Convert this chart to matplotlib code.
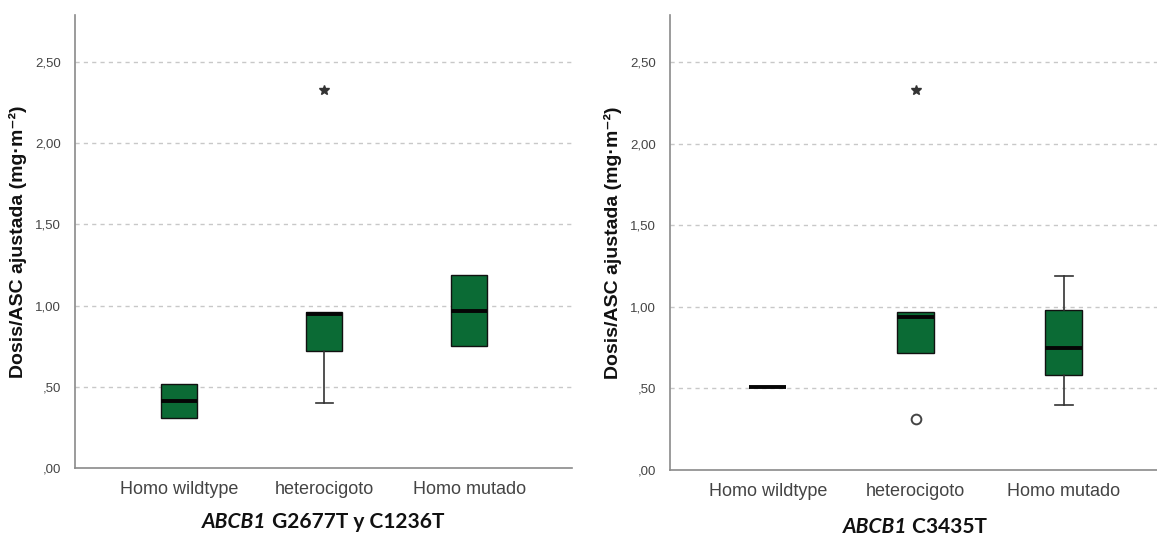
import matplotlib
matplotlib.use("Agg")
import matplotlib.pyplot as plt

plt.rcParams['font.family'] = ['Liberation Sans', 'DejaVu Sans']

categories = ["Homo wildtype", "heterocigoto", "Homo mutado"]
yticks = [0.0, 0.5, 1.0, 1.5, 2.0, 2.5]
ytick_labels = [",00", ",50", "1,00", "1,50", "2,00", "2,50"]

# Panel 1: ABCB1 G2677T y C1236T
p1_q1 = [0.31, 0.72, 0.75]
p1_med = [0.41, 0.95, 0.97]
p1_q3 = [0.52, 0.96, 1.19]
p1_wlo = [0.31, 0.40, 0.75]
p1_whi = [0.52, 0.96, 1.19]
p1_extreme = [[], [2.33], []]
p1_outlier = [[], [], []]

# Panel 2: ABCB1 C3435T
p2_q1 = [0.51, 0.72, 0.58]
p2_med = [0.51, 0.94, 0.75]
p2_q3 = [0.51, 0.97, 0.98]
p2_wlo = [0.51, 0.72, 0.40]
p2_whi = [0.51, 0.97, 1.19]
p2_extreme = [[], [2.33], []]
p2_outlier = [[], [0.31], []]

GREEN = "#0B6B35"

fig = plt.figure(figsize=(11.57, 5.40), dpi=100)
ax1 = fig.add_axes([75/1157, 1-468/540, (572-75)/1157, (468-15)/540])
ax2 = fig.add_axes([670/1157, 1-470/540, (1157-670)/1157, (470-15)/540])


def draw(ax, q1, med, q3, wlo, whi, extreme, outlier, xlim):
    stats = []
    for i in range(len(categories)):
        stats.append(dict(q1=q1[i], med=med[i], q3=q3[i], whislo=wlo[i],
                          whishi=whi[i], fliers=[], label=categories[i]))
    pos = list(range(1, len(categories)+1))
    art = ax.bxp(stats, positions=pos, widths=0.25, patch_artist=True, showfliers=False,
                 boxprops=dict(facecolor=GREEN, edgecolor="#111111", linewidth=1.0),
                 medianprops=dict(color="#050505", linewidth=2.8, solid_capstyle='butt'),
                 whiskerprops=dict(color="#333333", linewidth=1.2),
                 capprops=dict(color="#333333", linewidth=1.2),
                 capwidths=0.12)
    for i in range(len(categories)):
        lo_cap, hi_cap = art['caps'][2*i], art['caps'][2*i+1]
        if wlo[i] == q1[i]:
            lo_cap.set_visible(False)
        if whi[i] == q3[i]:
            hi_cap.set_visible(False)
        if q1[i] == q3[i]:
            art['boxes'][i].set_visible(False)
    for i, p in enumerate(pos):
        if extreme[i]:
            ax.plot([p]*len(extreme[i]), extreme[i], linestyle='none', marker='*',
                    markersize=7, color="#333333", zorder=5)
        if outlier[i]:
            ax.plot([p]*len(outlier[i]), outlier[i], linestyle='none', marker='o',
                    markersize=7, markerfacecolor='white', markeredgecolor="#444444",
                    markeredgewidth=1.4, zorder=5)
    ax.set_xlim(*xlim)
    ax.set_ylim(0, 2.79)
    ax.set_yticks(yticks)
    ax.set_yticklabels(ytick_labels)
    ax.set_xticks(pos)
    ax.set_xticklabels(categories)
    for v in yticks[1:]:
        ax.axhline(v, color="#c8c8c8", linestyle=(0, (3, 3)), linewidth=1.0, zorder=0)
    for s in ["top", "right"]:
        ax.spines[s].set_visible(False)
    for s in ["left", "bottom"]:
        ax.spines[s].set_color("#8a8a8a")
        ax.spines[s].set_linewidth(1.2)
    ax.tick_params(axis='both', length=0)
    ax.tick_params(axis='y', labelsize=9.5, labelcolor="#444444", pad=10)
    ax.tick_params(axis='x', labelsize=13, labelcolor="#444444", pad=9)
    ax.set_ylabel("Dosis/ASC ajustada (mg·m⁻²)", fontsize=14, fontweight='bold',
                  color="#111111", labelpad=6,
                  family=['Liberation Sans', 'DejaVu Sans'])


draw(ax1, p1_q1, p1_med, p1_q3, p1_wlo, p1_whi, p1_extreme, p1_outlier, (0.28, 3.71))
draw(ax2, p2_q1, p2_med, p2_q3, p2_wlo, p2_whi, p2_extreme, p2_outlier, (0.34, 3.63))


def two_part_title(cx, cy, rest):
    t1 = fig.text(0, cy, "ABCB1", fontsize=15, fontweight='bold', style='italic',
                  family='Lato', va='center', ha='left', color="#111111")
    t2 = fig.text(0, cy, " " + rest, fontsize=15, fontweight='bold',
                  family='Lato', va='center', ha='left', color="#111111")
    fig.canvas.draw()
    r = fig.canvas.get_renderer()
    w1 = t1.get_window_extent(r).width / fig.bbox.width
    w2 = t2.get_window_extent(r).width / fig.bbox.width
    x0 = cx - (w1 + w2) / 2
    t1.set_x(x0)
    t2.set_x(x0 + w1)


two_part_title(323/1157, 1-522/540, "G2677T y C1236T")
two_part_title(915/1157, 1-527/540, "C3435T")

fig.savefig("out.png", dpi=100, facecolor="white")
